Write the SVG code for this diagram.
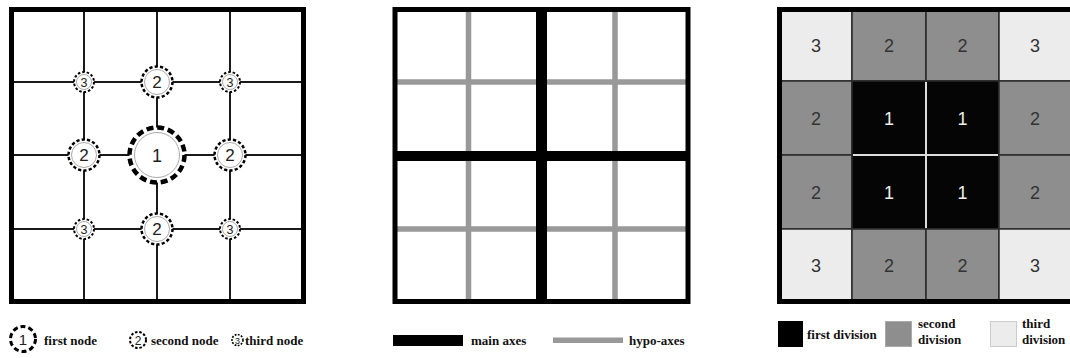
<svg xmlns="http://www.w3.org/2000/svg" width="1070" height="358" viewBox="0 0 1070 358">
<style>
.frame{fill:none;stroke:#000;stroke-width:5}
.grid{stroke:#1a1a1a;stroke-width:2}
.ring{fill:#fff;stroke:#000}
.inner{fill:#fff;stroke:#aaa;stroke-width:1}
.num{font-family:"Liberation Sans",Arial,sans-serif;text-anchor:middle;fill:#222}
.leg{font-family:"Liberation Serif","Times New Roman",serif;font-weight:bold;font-size:13px;fill:#111}
.c1{fill:#050505;stroke:#2a2a2a;stroke-width:1.5}
.c2{fill:#8e8e8e;stroke:#2a2a2a;stroke-width:1.5}
.c3{fill:#ececec;stroke:#2a2a2a;stroke-width:1.5}
.cn{font-family:"Liberation Sans",Arial,sans-serif;font-size:18px;text-anchor:middle;fill:#333}
.cw{fill:#eee}
.hypo{stroke:#999;stroke-width:5.5}
.main{stroke:#000}
</style>
<rect width="1070" height="358" fill="#fff"/>

<!-- LEFT PANEL -->
<g id="left-frame"><rect class="frame" x="11.5" y="9.5" width="292" height="292"/></g>
<g id="connectors">
<line class="grid" x1="84" y1="12" x2="84" y2="299"/>
<line class="grid" x1="157" y1="12" x2="157" y2="299"/>
<line class="grid" x1="230" y1="12" x2="230" y2="299"/>
<line class="grid" x1="14" y1="82" x2="301" y2="82"/>
<line class="grid" x1="14" y1="155" x2="301" y2="155"/>
<line class="grid" x1="14" y1="229" x2="301" y2="229"/>
</g>
<g id="node1">
<circle class="ring" cx="157" cy="155" r="27.5" stroke-width="4.5" stroke-dasharray="7 3.8"/>
<circle class="inner" cx="157" cy="155" r="22.5"/>
<text class="num" x="157" y="161.5" font-size="18">1</text>
</g>
<g id="node2-top">
<circle class="ring" cx="157" cy="82" r="15.5" stroke-width="2.5" stroke-dasharray="3.2 2.2"/>
<circle class="inner" cx="157" cy="82" r="12.5"/>
<text class="num" x="157" y="88" font-size="17">2</text>
</g>
<g id="node2-left">
<circle class="ring" cx="84" cy="155" r="15.5" stroke-width="2.5" stroke-dasharray="3.2 2.2"/>
<circle class="inner" cx="84" cy="155" r="12.5"/>
<text class="num" x="84" y="161" font-size="17">2</text>
</g>
<g id="node2-right">
<circle class="ring" cx="230" cy="155" r="15.5" stroke-width="2.5" stroke-dasharray="3.2 2.2"/>
<circle class="inner" cx="230" cy="155" r="12.5"/>
<text class="num" x="230" y="161" font-size="17">2</text>
</g>
<g id="node2-bottom">
<circle class="ring" cx="157" cy="229" r="15.5" stroke-width="2.5" stroke-dasharray="3.2 2.2"/>
<circle class="inner" cx="157" cy="229" r="12.5"/>
<text class="num" x="157" y="235" font-size="17">2</text>
</g>
<g id="node3-tl">
<circle class="ring" cx="84" cy="82" r="10" stroke-width="2" stroke-dasharray="2.5 2"/>
<circle class="inner" cx="84" cy="82" r="7.5"/>
<text class="num" x="84" y="86.5" font-size="12.5">3</text>
</g>
<g id="node3-tr">
<circle class="ring" cx="230" cy="82" r="10" stroke-width="2" stroke-dasharray="2.5 2"/>
<circle class="inner" cx="230" cy="82" r="7.5"/>
<text class="num" x="230" y="86.5" font-size="12.5">3</text>
</g>
<g id="node3-bl">
<circle class="ring" cx="84" cy="229" r="10" stroke-width="2" stroke-dasharray="2.5 2"/>
<circle class="inner" cx="84" cy="229" r="7.5"/>
<text class="num" x="84" y="233.5" font-size="12.5">3</text>
</g>
<g id="node3-br">
<circle class="ring" cx="230" cy="229" r="10" stroke-width="2" stroke-dasharray="2.5 2"/>
<circle class="inner" cx="230" cy="229" r="7.5"/>
<text class="num" x="230" y="233.5" font-size="12.5">3</text>
</g>
<g id="left-legend">
<circle class="ring" cx="23" cy="339" r="12.5" stroke-width="3" stroke-dasharray="5 3"/>
<text class="num" x="23" y="344.5" font-size="15">1</text>
<text class="leg" x="44" y="345">first node</text>
<circle class="ring" cx="138" cy="340" r="8" stroke-width="2" stroke-dasharray="2.5 1.8"/>
<text class="num" x="138" y="344.5" font-size="12">2</text>
<text class="leg" x="151" y="345">second node</text>
<circle class="ring" cx="237.5" cy="340" r="5.5" stroke-width="1.6" stroke-dasharray="1.8 1.4"/>
<text class="num" x="237.5" y="343.5" font-size="9">3</text>
<text class="leg" x="245" y="345">third node</text>
</g>

<!-- MIDDLE PANEL -->
<g id="middle-panel">
<line class="hypo" x1="468.5" y1="12" x2="468.5" y2="299"/>
<line class="hypo" x1="615" y1="12" x2="615" y2="299"/>
<line class="hypo" x1="397" y1="82" x2="686" y2="82"/>
<line class="hypo" x1="397" y1="229" x2="686" y2="229"/>
<line class="main" x1="541.5" y1="12" x2="541.5" y2="299" stroke-width="11"/>
<line class="main" x1="397" y1="156" x2="686" y2="156" stroke-width="10"/>
<rect class="frame" x="395" y="9.5" width="293" height="292" stroke-width="5.5"/>
</g>
<g id="middle-legend">
<rect x="393" y="335" width="70" height="11" fill="#000"/>
<text class="leg" x="471" y="345">main axes</text>
<rect x="553" y="337.5" width="70" height="5.5" fill="#999"/>
<text class="leg" x="629" y="345">hypo-axes</text>
</g>

<!-- RIGHT PANEL -->
<g id="right-panel">
<rect class="c3" x="780" y="9" width="72" height="72"/>
<rect class="c2" x="852" y="9" width="74" height="72"/>
<rect class="c2" x="926" y="9" width="73" height="72"/>
<rect class="c3" x="999" y="9" width="74" height="72"/>
<rect class="c2" x="780" y="81" width="72" height="74"/>
<rect class="c1" x="852" y="81" width="74" height="74"/>
<rect class="c1" x="926" y="81" width="73" height="74"/>
<rect class="c2" x="999" y="81" width="74" height="74"/>
<rect class="c2" x="780" y="155" width="72" height="74"/>
<rect class="c1" x="852" y="155" width="74" height="74"/>
<rect class="c1" x="926" y="155" width="73" height="74"/>
<rect class="c2" x="999" y="155" width="74" height="74"/>
<rect class="c3" x="780" y="229" width="72" height="73"/>
<rect class="c2" x="852" y="229" width="74" height="73"/>
<rect class="c2" x="926" y="229" width="73" height="73"/>
<rect class="c3" x="999" y="229" width="74" height="73"/>
<line x1="926" y1="82" x2="926" y2="228" stroke="#ddd" stroke-width="2"/>
<line x1="853" y1="155" x2="998" y2="155" stroke="#ddd" stroke-width="2"/>
<rect class="frame" x="779.5" y="9.5" width="295" height="292"/>
<text class="cn" x="816" y="52">3</text>
<text class="cn" x="889" y="52">2</text>
<text class="cn" x="962.5" y="52">2</text>
<text class="cn" x="1035" y="52">3</text>
<text class="cn" x="816" y="125">2</text>
<text class="cn cw" x="889" y="125">1</text>
<text class="cn cw" x="962.5" y="125">1</text>
<text class="cn" x="1035" y="125">2</text>
<text class="cn" x="816" y="199">2</text>
<text class="cn cw" x="889" y="199">1</text>
<text class="cn cw" x="962.5" y="199">1</text>
<text class="cn" x="1035" y="199">2</text>
<text class="cn" x="816" y="272">3</text>
<text class="cn" x="889" y="272">2</text>
<text class="cn" x="962.5" y="272">2</text>
<text class="cn" x="1035" y="272">3</text>
</g>
<g id="right-legend">
<rect x="778" y="321" width="25" height="26" fill="#000"/>
<text class="leg" x="807" y="339">first division</text>
<rect x="885.5" y="321.5" width="26" height="25" fill="#8e8e8e" stroke="#aaa" stroke-width="1"/>
<text class="leg" x="918" y="328">second</text>
<text class="leg" x="918" y="344">division</text>
<rect x="990.5" y="321.5" width="26" height="25" fill="#ececec" stroke="#ccc" stroke-width="1"/>
<text class="leg" x="1022" y="328">third</text>
<text class="leg" x="1022" y="344">division</text>
</g>
</svg>
